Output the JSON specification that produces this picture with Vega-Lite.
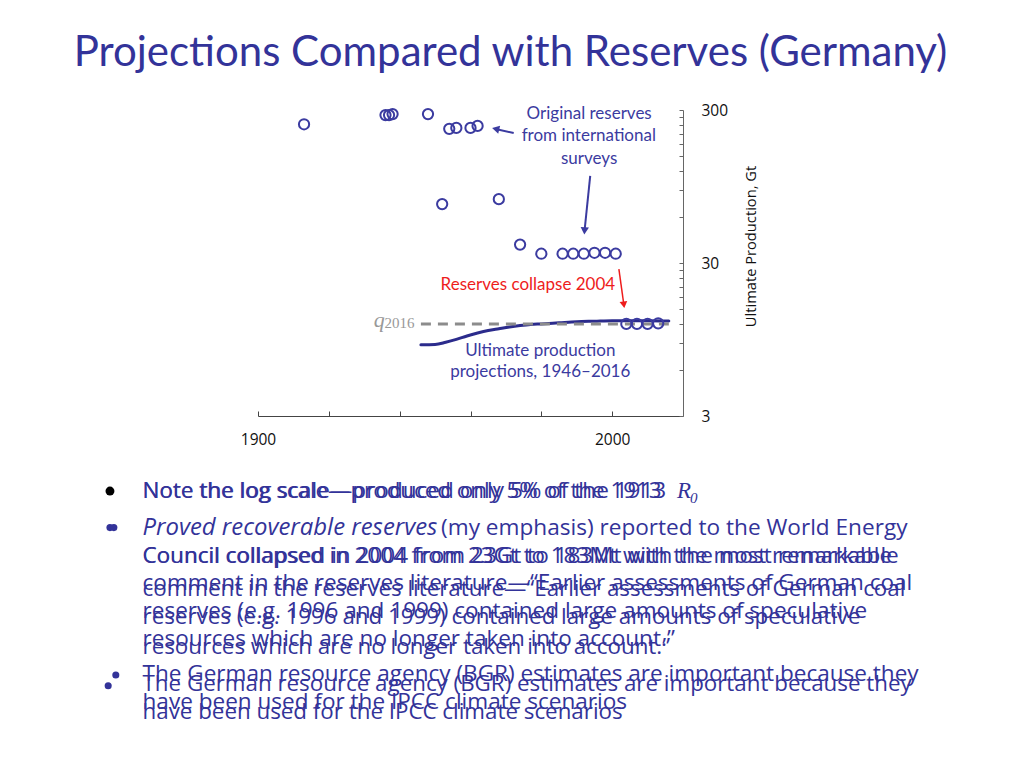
{
  "$schema": "https://vega.github.io/schema/vega-lite/v6.json",
  "width": 425,
  "height": 306,
  "autosize": {"type": "none"},
  "padding": {"left": 258, "top": 110, "right": 341, "bottom": 352},
  "background": "white",
  "title": {
    "text": "Projections Compared with Reserves (Germany)",
    "font": "Lato",
    "fontSize": 42,
    "fontWeight": "normal",
    "color": "#333399",
    "anchor": "middle",
    "frame": "group",
    "dx": 40,
    "offset": 28
  },
  "config": {"view": {"stroke": null}, "font": "Lato"},
  "datasets": {
    "curve": [
      {"year": 1946, "gt": 8.75}, {"year": 1950, "gt": 8.8}, {"year": 1953, "gt": 9.1},
      {"year": 1956, "gt": 9.5}, {"year": 1959, "gt": 10.0}, {"year": 1962, "gt": 10.45},
      {"year": 1965, "gt": 10.85}, {"year": 1968, "gt": 11.15}, {"year": 1971, "gt": 11.45},
      {"year": 1974, "gt": 11.7}, {"year": 1977, "gt": 11.9}, {"year": 1980, "gt": 12.0},
      {"year": 1985, "gt": 12.2}, {"year": 1990, "gt": 12.4}, {"year": 1995, "gt": 12.5},
      {"year": 2000, "gt": 12.6}, {"year": 2005, "gt": 12.6}, {"year": 2010, "gt": 12.6},
      {"year": 2016, "gt": 12.55}
    ],
    "q2016": [{"year": 1946, "year2": 2016, "gt": 12.0}],
    "reserves": [
      {"year": 1913, "gt": 242}, {"year": 1936, "gt": 278}, {"year": 1937, "gt": 278},
      {"year": 1938, "gt": 282}, {"year": 1948, "gt": 282}, {"year": 1952, "gt": 72.8},
      {"year": 1954, "gt": 226}, {"year": 1956, "gt": 229}, {"year": 1960, "gt": 229},
      {"year": 1962, "gt": 236}, {"year": 1968, "gt": 78.4}, {"year": 1974, "gt": 39.6},
      {"year": 1980, "gt": 34.5}, {"year": 1986, "gt": 34.5}, {"year": 1989, "gt": 34.5},
      {"year": 1992, "gt": 34.5}, {"year": 1995, "gt": 35}, {"year": 1998, "gt": 35},
      {"year": 2001, "gt": 34.5}, {"year": 2004, "gt": 12.0}, {"year": 2007, "gt": 12.0},
      {"year": 2010, "gt": 12.0}, {"year": 2013, "gt": 12.1}
    ],
    "arrowsBlue": [
      {"year": 1972.2, "gt": 212, "year2": 1967.1, "gt2": 225.6},
      {"year": 1993.8, "gt": 111.3, "year2": 1992.2, "gt2": 48.7}
    ],
    "arrowRed": [{"year": 2001.9, "gt": 27.4, "year2": 2003.3, "gt2": 16.0}],
    "notesBlue": [
      {"year": 1993.5, "gt": 282, "text": "Original reserves"},
      {"year": 1993.4, "gt": 203, "text": "from international"},
      {"year": 1993.5, "gt": 144, "text": "surveys"},
      {"year": 1979.7, "gt": 7.94, "text": "Ultimate production"},
      {"year": 1979.7, "gt": 5.79, "text": "projections, 1946–2016"}
    ],
    "bulletA": [
      {"year": 1867.4, "gt": 0.969, "text": "Note the log scale—produced only 5% of the 1913"},
      {"year": 1867.4, "gt": 0.3649, "text": "Council collapsed in 2004 from 23Gt to 183Mt with the most remarkable"},
      {"year": 1867.4, "gt": 0.2447, "text": "comment in the reserves literature—“Earlier assessments of German coal"},
      {"year": 1867.4, "gt": 0.1598, "text": "reserves (e.g. 1996 and 1999) contained large amounts of speculative"},
      {"year": 1867.4, "gt": 0.1044, "text": "resources which are no longer taken into account.”"},
      {"year": 1867.4, "gt": 0.06169, "text": "The German resource agency (BGR) estimates are important because they"},
      {"year": 1867.4, "gt": 0.04034, "text": "have been used for the IPCC climate scenarios"}
    ],
    "bulletB": [
      {"year": 1867.4, "gt": 0.969, "text": "Note the log scale—produced only 5% of the 1913"},
      {"year": 1867.4, "gt": 0.3649, "text": "Council collapsed in 2004 from 23Gt to 183Mt with the most remarkable"},
      {"year": 1867.4, "gt": 0.2213, "text": "comment in the reserves literature—“Earlier assessments of German coal"},
      {"year": 1867.4, "gt": 0.1447, "text": "reserves (e.g. 1996 and 1999) contained large amounts of speculative"},
      {"year": 1867.4, "gt": 0.09215, "text": "resources which are no longer taken into account.”"},
      {"year": 1867.4, "gt": 0.0531, "text": "The German resource agency (BGR) estimates are important because they"},
      {"year": 1867.4, "gt": 0.03471, "text": "have been used for the IPCC climate scenarios"}
    ]
  },
  "layer": [
    {
      "data": {"name": "curve"},
      "mark": {"type": "line", "color": "#2b2b8c", "strokeWidth": 3, "interpolate": "monotone", "strokeCap": "round"},
      "encoding": {
        "x": {
          "field": "year", "type": "quantitative",
          "scale": {"domain": [1900, 2020], "nice": false, "zero": false},
          "axis": {
            "title": null, "grid": false,
            "values": [1900, 1910, 1920, 1930, 1940, 1950, 1960, 1970, 1980, 1990, 2000, 2010],
            "format": "d",
            "labelExpr": "datum.value % 50 === 0 ? datum.label : ''",
            "tickSize": -5, "labelPadding": 21, "labelFlush": false, "labelOverlap": false,
            "domainColor": "#444", "tickColor": "#444",
            "labelFont": "Open Sans", "labelFontSize": 15.5, "labelColor": "#111"
          }
        },
        "y": {
          "field": "gt", "type": "quantitative",
          "scale": {"type": "log", "domain": [3, 300], "nice": false},
          "axis": {
            "orient": "right", "grid": false,
            "values": [3, 6, 9, 12, 15, 18, 21, 24, 27, 30, 60, 90, 120, 150, 180, 210, 240, 270, 300],
            "format": "d",
            "labelExpr": "datum.value == 3 || datum.value == 30 || datum.value == 300 ? datum.label : ''",
            "tickSize": -4, "labelPadding": 22, "labelOverlap": false, "labelBound": false,
            "domainColor": "#666", "tickColor": "#666",
            "labelFont": "Open Sans", "labelFontSize": 15.5, "labelColor": "#111",
            "title": "Ultimate Production, Gt",
            "titleAngle": 270, "titleX": 68, "titleY": 136,
            "titleAlign": "center", "titleBaseline": "middle",
            "titleFont": "Open Sans", "titleFontSize": 14.7, "titleFontWeight": "normal", "titleColor": "#111"
          }
        }
      }
    },
    {
      "data": {"name": "q2016"},
      "mark": {"type": "rule", "color": "#8c8c8c", "strokeWidth": 3, "strokeDash": [10, 7]},
      "encoding": {
        "x": {"field": "year", "type": "quantitative"},
        "x2": {"field": "year2"},
        "y": {"field": "gt", "type": "quantitative"}
      }
    },
    {
      "data": {"name": "reserves"},
      "mark": {"type": "point", "shape": "circle", "filled": false, "size": 105, "strokeWidth": 2, "color": "#3b3ba0", "opacity": 1},
      "encoding": {
        "x": {"field": "year", "type": "quantitative"},
        "y": {"field": "gt", "type": "quantitative"}
      }
    },
    {
      "data": {"name": "arrowsBlue"},
      "mark": {"type": "rule", "color": "#3b3ba0", "strokeWidth": 2},
      "encoding": {
        "x": {"field": "year", "type": "quantitative"},
        "y": {"field": "gt", "type": "quantitative"},
        "x2": {"field": "year2"},
        "y2": {"field": "gt2"}
      }
    },
    {
      "data": {"values": [{"year": 1967.1, "gt": 225.6}]},
      "mark": {"type": "point", "shape": "triangle-up", "filled": true, "size": 70, "angle": 283, "color": "#3b3ba0", "opacity": 1},
      "encoding": {
        "x": {"field": "year", "type": "quantitative"},
        "y": {"field": "gt", "type": "quantitative"}
      }
    },
    {
      "data": {"values": [{"year": 1992.2, "gt": 48.7}]},
      "mark": {"type": "point", "shape": "triangle-up", "filled": true, "size": 70, "angle": 184, "color": "#3b3ba0", "opacity": 1},
      "encoding": {
        "x": {"field": "year", "type": "quantitative"},
        "y": {"field": "gt", "type": "quantitative"}
      }
    },
    {
      "data": {"name": "arrowRed"},
      "mark": {"type": "rule", "color": "#ee1c1c", "strokeWidth": 1.5},
      "encoding": {
        "x": {"field": "year", "type": "quantitative"},
        "y": {"field": "gt", "type": "quantitative"},
        "x2": {"field": "year2"},
        "y2": {"field": "gt2"}
      }
    },
    {
      "data": {"values": [{"year": 2003.3, "gt": 16.0}]},
      "mark": {"type": "point", "shape": "triangle-up", "filled": true, "size": 60, "angle": 172, "color": "#ee1c1c", "opacity": 1},
      "encoding": {
        "x": {"field": "year", "type": "quantitative"},
        "y": {"field": "gt", "type": "quantitative"}
      }
    },
    {
      "data": {"name": "notesBlue"},
      "mark": {"type": "text", "align": "center", "baseline": "middle", "font": "Lato", "fontSize": 17, "color": "#3b3ba0"},
      "encoding": {
        "x": {"field": "year", "type": "quantitative"},
        "y": {"field": "gt", "type": "quantitative"},
        "text": {"field": "text"}
      }
    },
    {
      "data": {"values": [{"year": 1976.2, "gt": 21.5, "text": "Reserves collapse 2004"}]},
      "mark": {"type": "text", "align": "center", "baseline": "middle", "font": "Lato", "fontSize": 17, "color": "#ee1c1c"},
      "encoding": {
        "x": {"field": "year", "type": "quantitative"},
        "y": {"field": "gt", "type": "quantitative"},
        "text": {"field": "text"}
      }
    },
    {
      "data": {"values": [{"year": 1935.8, "gt": 11.4, "text": "q"}]},
      "mark": {"type": "text", "align": "right", "baseline": "alphabetic", "font": "Liberation Serif", "fontStyle": "italic", "fontSize": 22, "color": "#999999"},
      "encoding": {
        "x": {"field": "year", "type": "quantitative"},
        "y": {"field": "gt", "type": "quantitative"},
        "text": {"field": "text"}
      }
    },
    {
      "data": {"values": [{"year": 1944.2, "gt": 11.2, "text": "2016"}]},
      "mark": {"type": "text", "align": "right", "baseline": "alphabetic", "font": "Liberation Serif", "fontSize": 15, "color": "#999999"},
      "encoding": {
        "x": {"field": "year", "type": "quantitative"},
        "y": {"field": "gt", "type": "quantitative"},
        "text": {"field": "text"}
      }
    },
    {
      "data": {"name": "bulletA"},
      "mark": {"type": "text", "align": "left", "baseline": "middle", "font": "Open Sans", "fontSize": 22.55, "color": "#333399"},
      "encoding": {
        "x": {"field": "year", "type": "quantitative"},
        "y": {"field": "gt", "type": "quantitative"},
        "text": {"field": "text"}
      }
    },
    {
      "data": {"name": "bulletB"},
      "mark": {"type": "text", "align": "left", "baseline": "middle", "font": "Open Sans", "fontSize": 22.35, "color": "#333399"},
      "encoding": {
        "x": {"field": "year", "type": "quantitative"},
        "y": {"field": "gt", "type": "quantitative"},
        "text": {"field": "text"}
      }
    },
    {
      "data": {"values": [{"year": 1867.4, "gt": 0.5593, "text": "Proved recoverable reserves"}]},
      "mark": {"type": "text", "align": "left", "baseline": "middle", "font": "Open Sans", "fontStyle": "italic", "fontSize": 23.9, "color": "#333399"},
      "encoding": {
        "x": {"field": "year", "type": "quantitative"},
        "y": {"field": "gt", "type": "quantitative"},
        "text": {"field": "text"}
      }
    },
    {
      "data": {"values": [{"year": 1951.7, "gt": 0.5593, "text": "(my emphasis) reported to the World Energy"}]},
      "mark": {"type": "text", "align": "left", "baseline": "middle", "font": "Open Sans", "fontSize": 22.6, "color": "#333399"},
      "encoding": {
        "x": {"field": "year", "type": "quantitative"},
        "y": {"field": "gt", "type": "quantitative"},
        "text": {"field": "text"}
      }
    },
    {
      "data": {"values": [{"year": 2018.3, "gt": 0.969, "text": "R"}]},
      "mark": {"type": "text", "align": "left", "baseline": "middle", "font": "Liberation Serif", "fontStyle": "italic", "fontSize": 23, "color": "#333399"},
      "encoding": {
        "x": {"field": "year", "type": "quantitative"},
        "y": {"field": "gt", "type": "quantitative"},
        "text": {"field": "text"}
      }
    },
    {
      "data": {"values": [{"year": 2022.0, "gt": 0.8686, "text": "0"}]},
      "mark": {"type": "text", "align": "left", "baseline": "middle", "font": "Liberation Serif", "fontStyle": "italic", "fontSize": 15, "color": "#333399"},
      "encoding": {
        "x": {"field": "year", "type": "quantitative"},
        "y": {"field": "gt", "type": "quantitative"},
        "text": {"field": "text"}
      }
    },
    {
      "data": {"values": [{"year": 1858.2, "gt": 0.969}]},
      "mark": {"type": "point", "shape": "circle", "filled": true, "size": 80, "color": "#000000", "opacity": 1},
      "encoding": {
        "x": {"field": "year", "type": "quantitative"},
        "y": {"field": "gt", "type": "quantitative"}
      }
    },
    {
      "data": {"values": [{"year": 1858.2, "gt": 0.5593}, {"year": 1859.3, "gt": 0.5593}, {"year": 1859.85, "gt": 0.0608}, {"year": 1857.7, "gt": 0.05176}]},
      "mark": {"type": "point", "shape": "circle", "filled": true, "size": 50, "color": "#333399", "opacity": 1},
      "encoding": {
        "x": {"field": "year", "type": "quantitative"},
        "y": {"field": "gt", "type": "quantitative"}
      }
    }
  ]
}
